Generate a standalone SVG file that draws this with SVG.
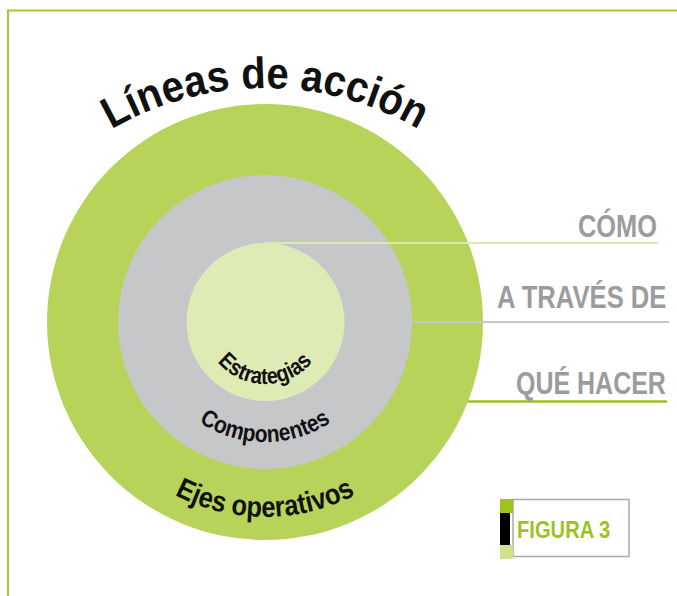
<svg xmlns="http://www.w3.org/2000/svg" width="677" height="596" viewBox="0 0 677 596">
<style>
  .t { font-family: "Liberation Sans", Arial, sans-serif; font-weight: bold; }
  .arc { fill: #111; }
  .lbl { fill: #9b9c9e; font-size: 31px; }
</style>
<defs>
  <path id="pTitle" d="M -42 395 A 307 307 0 0 1 572 395"/>
  <path id="pEst" d="M 203 322 A 62 62 0 0 0 327 322"/>
  <path id="pComp" d="M 145 322 A 120 120 0 0 0 385 322"/>
  <path id="pEjes" d="M 70 322 A 195 195 0 0 0 460 322"/>
</defs>
<rect width="677" height="596" fill="#fff"/>
<g id="frame" fill="none" stroke="#a5c82c" stroke-width="2">
  <path d="M 677 10.5 L 8 10.5 L 8 596"/>
</g>
<g id="ejes">
  <circle cx="265" cy="322" r="218" fill="#b8d35a"/>
</g>
<g id="componentes">
  <circle cx="265" cy="322" r="147" fill="#c6c7c9"/>
</g>
<g id="estrategias">
  <circle cx="265.5" cy="322" r="79" fill="#dfebb5"/>
</g>
<g id="connectors" fill="none">
  <line x1="265" y1="243" x2="658" y2="243" stroke="#dde9b1" stroke-width="2"/>
  <line x1="413" y1="322" x2="669" y2="322" stroke="#c6c7c9" stroke-width="2"/>
  <line x1="468" y1="401.5" x2="667" y2="401.5" stroke="#9dc31c" stroke-width="2.5"/>
</g>
<g id="title">
  <text class="t arc" font-size="44" textLength="322" lengthAdjust="spacingAndGlyphs"><textPath href="#pTitle" startOffset="50%" text-anchor="middle">Líneas de acción</textPath></text>
</g>
<g id="label-estrategias">
  <text class="t arc" font-size="23" textLength="108" lengthAdjust="spacingAndGlyphs"><textPath href="#pEst" startOffset="50%" text-anchor="middle">Estrategias</textPath></text>
</g>
<g id="label-componentes">
  <text class="t arc" font-size="24" textLength="140" lengthAdjust="spacingAndGlyphs"><textPath href="#pComp" startOffset="50%" text-anchor="middle">Componentes</textPath></text>
</g>
<g id="label-ejes">
  <text class="t arc" font-size="29" textLength="188" lengthAdjust="spacingAndGlyphs"><textPath href="#pEjes" startOffset="50%" text-anchor="middle">Ejes operativos</textPath></text>
</g>
<g id="como">
  <text class="t lbl" transform="translate(578 237) scale(0.82 1)">CÓMO</text>
</g>
<g id="atraves">
  <text class="t lbl" transform="translate(497 308) scale(0.827 1)">A TRAVÉS DE</text>
</g>
<g id="quehacer">
  <text class="t lbl" transform="translate(516 394) scale(0.806 1)">QUÉ HACER</text>
</g>
<g id="figura">
  <rect x="513" y="499.5" width="116" height="57" fill="#fff" stroke="#aaaaaa" stroke-width="1.5"/>
  <rect x="500" y="499" width="13" height="14" fill="#9dc31c"/>
  <rect x="500" y="513" width="10" height="32" fill="#000"/>
  <rect x="500" y="545" width="13" height="14" fill="#cfe28e"/>
  <text class="t" transform="translate(517 538) scale(0.84 1)" font-size="24" fill="#9dc31c">FIGURA 3</text>
</g>
</svg>
